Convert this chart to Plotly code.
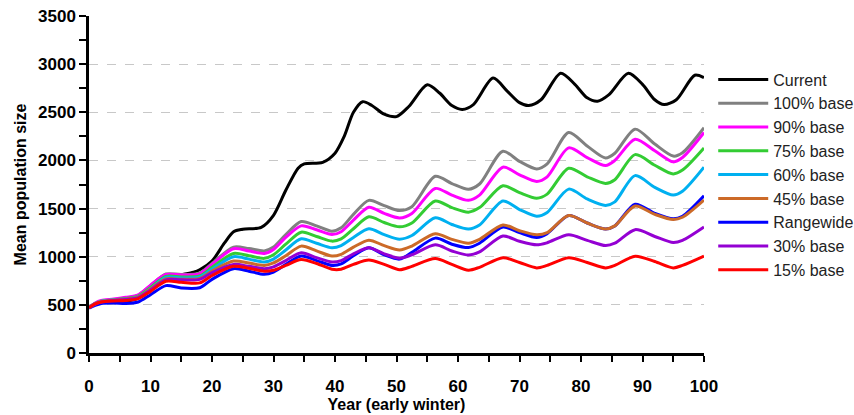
import plotly.graph_objects as go

# ---- data ----
years_current = [0, 1, 2, 4, 5.5, 7, 8, 10, 12, 13, 15, 17, 18, 20, 22, 23.5, 25, 28, 30, 32, 34, 35, 38, 40,
                 41.5, 43, 44.5, 46, 48, 50, 52, 55, 57, 59, 60.7, 62.5, 65.7, 68, 70, 71.5, 73.5, 76.7,
                 79, 81, 82.7, 84.5, 87.7, 90, 92, 93.5, 95.5, 98.5, 100]
current = [470, 515, 530, 535, 530, 550, 570, 650, 755, 790, 815, 840, 865, 955, 1140, 1260, 1285, 1305, 1430,
           1690, 1920, 1965, 1980, 2075, 2250, 2500, 2610, 2570, 2480, 2455, 2560, 2785, 2700, 2570, 2530,
           2580, 2855, 2720, 2600, 2570, 2630, 2905, 2790, 2650, 2615, 2680, 2905, 2790, 2630, 2580, 2630,
           2885, 2860]

years = [0, 1, 2, 4, 6, 8, 10, 12.5, 15, 18, 20, 23.5, 26, 28.5, 30, 32, 34.5, 37, 39.5, 41, 43, 45.5, 48,
         50.5, 52.5, 56.3, 59, 61.7, 63.5, 67.3, 70, 72.8, 74.5, 78, 81, 84, 85.5, 88.8, 92, 95, 96.5, 100]

base100 = [470, 515, 540, 555, 570, 600, 700, 820, 815, 830, 930, 1100, 1085, 1060, 1100, 1230, 1365, 1320,
           1265, 1300, 1440, 1585, 1530, 1480, 1520, 1835, 1760, 1700, 1755, 2095, 1990, 1912, 1965, 2290,
           2150, 2025, 2075, 2325, 2170, 2045, 2080, 2340]
base90 = [470, 520, 545, 560, 578, 605, 705, 815, 810, 822, 920, 1083, 1060, 1034, 1076, 1200, 1320, 1280,
          1231, 1260, 1380, 1514, 1450, 1403, 1450, 1709, 1640, 1586, 1640, 1930, 1850, 1782, 1830, 2130,
          2030, 1947, 2000, 2220, 2100, 1985, 2030, 2290]
base75 = [470, 512, 538, 552, 565, 590, 680, 795, 790, 800, 890, 1034, 1010, 983, 1020, 1130, 1255, 1210,
          1162, 1185, 1290, 1414, 1355, 1310, 1350, 1579, 1510, 1463, 1510, 1737, 1665, 1607, 1650, 1919,
          1830, 1761, 1800, 2060, 1950, 1860, 1900, 2130]
base60 = [470, 510, 535, 550, 562, 585, 670, 785, 780, 790, 870, 1000, 975, 945, 975, 1070, 1186, 1140,
          1093, 1115, 1200, 1290, 1230, 1182, 1220, 1404, 1335, 1288, 1330, 1579, 1490, 1421, 1460, 1702,
          1600, 1533, 1570, 1842, 1720, 1640, 1680, 1930]
base45 = [470, 508, 532, 548, 560, 582, 665, 770, 765, 775, 850, 955, 935, 910, 935, 1010, 1110, 1060,
          1007, 1025, 1100, 1172, 1115, 1070, 1110, 1239, 1180, 1140, 1180, 1330, 1270, 1228, 1250, 1428,
          1350, 1288, 1320, 1526, 1440, 1386, 1410, 1589]
rangewide = [465, 495, 515, 520, 515, 530, 605, 700, 675, 678, 765, 876, 850, 817, 840, 920, 1007, 960,
             910, 925, 1010, 1093, 1020, 975, 1045, 1193, 1130, 1095, 1140, 1309, 1250, 1200, 1240, 1428,
             1350, 1288, 1320, 1544, 1450, 1393, 1420, 1632]
base30 = [470, 508, 530, 545, 555, 575, 655, 760, 760, 765, 835, 920, 900, 876, 895, 960, 1041, 990,
          945, 960, 1030, 1093, 1030, 985, 1020, 1123, 1060, 1018, 1050, 1215, 1160, 1123, 1145, 1228,
          1170, 1116, 1140, 1281, 1210, 1147, 1170, 1309]
base15 = [470, 510, 530, 540, 545, 565, 640, 745, 735, 728, 805, 900, 880, 850, 860, 910, 970, 930,
          870, 870, 920, 965, 920, 865, 900, 982, 920, 860, 890, 990, 940, 884, 910, 990, 940, 884, 910,
          1005, 950, 884, 910, 1007]

y_tick_vals = [0, 500, 1000, 1500, 2000, 2500, 3000, 3500]
x_tick_vals = [0, 10, 20, 30, 40, 50, 60, 70, 80, 90, 100]

# (name, x, y, colour, legend rank) in drawing order
series = [
    ("Current", years_current, current, "#000000", 1),
    ("100% base", years, base100, "#808080", 2),
    ("90% base", years, base90, "#FF00FF", 3),
    ("75% base", years, base75, "#33CC33", 4),
    ("60% base", years, base60, "#00B0F0", 5),
    ("Rangewide", years, rangewide, "#0000FF", 7),
    ("45% base", years, base45, "#CC6A28", 6),
    ("30% base", years, base30, "#9400D3", 8),
    ("15% base", years, base15, "#FF0000", 9),
]

fig = go.Figure()
for name, xs, ys, col, rank in series:
    fig.add_trace(go.Scatter(x=xs, y=ys, mode="lines", name=name, legendrank=rank,
                             line=dict(color=col, width=3, shape="spline", smoothing=0.8)))

tick_font = dict(family="Liberation Sans, Arial", size=17, color="black", weight="bold")
title_font = dict(family="Liberation Sans, Arial", size=16, color="black", weight="bold")

fig.update_layout(
    width=854, height=415,
    margin=dict(l=89, r=150, t=16, b=62, autoexpand=False),
    paper_bgcolor="white", plot_bgcolor="white",
    showlegend=True,
    legend=dict(x=1.015, y=0.862, xanchor="left", yanchor="top",
                font=dict(family="Liberation Sans, Arial", size=16, color="#222"),
                itemwidth=50, tracegroupgap=0, bgcolor="rgba(0,0,0,0)"),
)
fig.update_xaxes(
    range=[0, 100], tickvals=x_tick_vals, ticktext=[str(v) for v in x_tick_vals],
    showline=True, linecolor="black", linewidth=2.5, mirror=False, automargin=False,
    ticks="outside", ticklen=6, tickwidth=2, tickcolor="black",
    minor=dict(dtick=5, ticks="outside", ticklen=6, tickwidth=2, tickcolor="black", showgrid=False),
    showgrid=False, zeroline=False, tickfont=tick_font, ticklabelstandoff=10,
    ticklabeloverflow="allow",
    title=dict(text="Year (early winter)", font=title_font, standoff=2),
)
fig.update_yaxes(
    range=[0, 3500], tickvals=y_tick_vals, ticktext=[str(v) for v in y_tick_vals],
    showline=True, linecolor="black", linewidth=2.5, automargin=False,
    ticks="outside", ticklen=7, tickwidth=2, tickcolor="black",
    minor=dict(dtick=250, ticks="outside", ticklen=7, tickwidth=2, tickcolor="black", showgrid=False),
    showgrid=True, gridcolor="#C8C8C8", griddash="dash", gridwidth=1,
    zeroline=False, tickfont=tick_font, ticklabeloverflow="allow",
    title=dict(text="Mean population size", font=title_font, standoff=8),
)

fig.write_html("out.html",
               config={"displayModeBar": False},
               post_script="document.body.style.margin='0';document.body.style.overflow='hidden';")
